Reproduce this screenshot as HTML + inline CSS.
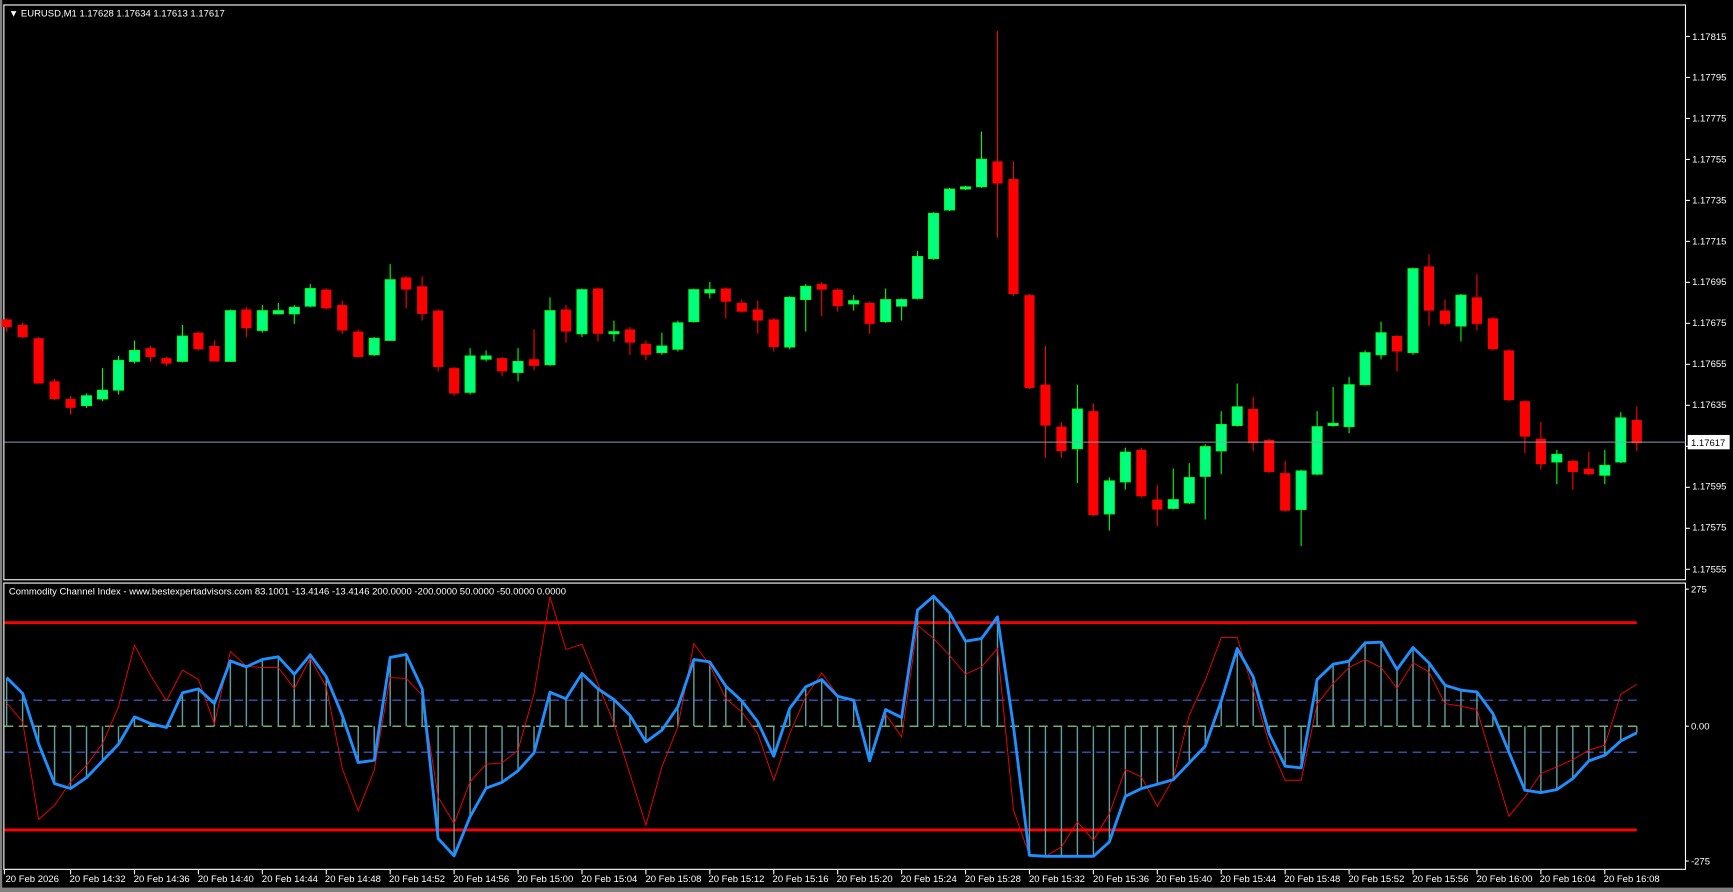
<!DOCTYPE html>
<html><head><meta charset="utf-8">
<style>
html,body{margin:0;padding:0;background:#000;overflow:hidden;}
svg{display:block;}
text{font-family:"Liberation Sans",sans-serif;fill:#fff;font-size:8.6px;}
</style></head><body>
<svg id="c" width="1733" height="892" viewBox="0 0 1568 807" preserveAspectRatio="none" xmlns="http://www.w3.org/2000/svg">
<rect x="0" y="0" width="1568" height="807" fill="#000"/>
<rect x="0" y="0" width="2" height="807" fill="#808080"/>
<rect x="0" y="803" width="1568" height="4" fill="#808080"/>
<g id="grid"></g>
<rect x="3.5" y="4.5" width="1521.5" height="520" fill="none" stroke="#fff" stroke-width="1"/>
<rect x="3.5" y="527.5" width="1521.5" height="259" fill="none" stroke="#fff" stroke-width="1"/>
<g id="ind"></g>
<g id="cand"></g>
<line x1="4" y1="400" x2="1525" y2="400" stroke="#8a9aab" stroke-width="1"/>
<g id="axis"></g>
<text x="8" y="15">▼ EURUSD,M1  1.17628 1.17634 1.17613 1.17617</text>
<text x="8" y="538">Commodity Channel Index - www.bestexpertadvisors.com 83.1001 -13.4146 -13.4146 200.0000 -200.0000 50.0000 -50.0000 0.0000</text>
<text x="1531" y="36">1.17815</text>
<text x="1531" y="73">1.17795</text>
<text x="1531" y="110">1.17775</text>
<text x="1531" y="147">1.17755</text>
<text x="1531" y="184">1.17735</text>
<text x="1531" y="221">1.17715</text>
<text x="1531" y="258">1.17695</text>
<text x="1531" y="295">1.17675</text>
<text x="1531" y="332">1.17655</text>
<text x="1531" y="369">1.17635</text>
<text x="1531" y="443">1.17595</text>
<text x="1531" y="480">1.17575</text>
<text x="1531" y="518">1.17555</text>
<rect x="1527" y="393.5" width="38" height="13" fill="#fff"/>
<text x="1530" y="403.5" style="fill:#000">1.17617</text>
<text x="1530" y="536">275</text>
<text x="1530" y="660">0.00</text>
<text x="1530" y="782">-275</text>
<g id="xl">
<text x="5" y="798">20 Feb 2026</text>
<text x="63" y="798">20 Feb 14:32</text>
<text x="121" y="798">20 Feb 14:36</text>
<text x="179" y="798">20 Feb 14:40</text>
<text x="237" y="798">20 Feb 14:44</text>
<text x="294" y="798">20 Feb 14:48</text>
<text x="352" y="798">20 Feb 14:52</text>
<text x="410" y="798">20 Feb 14:56</text>
<text x="468" y="798">20 Feb 15:00</text>
<text x="526" y="798">20 Feb 15:04</text>
<text x="584" y="798">20 Feb 15:08</text>
<text x="641" y="798">20 Feb 15:12</text>
<text x="699" y="798">20 Feb 15:16</text>
<text x="757" y="798">20 Feb 15:20</text>
<text x="815" y="798">20 Feb 15:24</text>
<text x="873" y="798">20 Feb 15:28</text>
<text x="931" y="798">20 Feb 15:32</text>
<text x="989" y="798">20 Feb 15:36</text>
<text x="1046" y="798">20 Feb 15:40</text>
<text x="1104" y="798">20 Feb 15:44</text>
<text x="1162" y="798">20 Feb 15:48</text>
<text x="1220" y="798">20 Feb 15:52</text>
<text x="1278" y="798">20 Feb 15:56</text>
<text x="1336" y="798">20 Feb 16:00</text>
<text x="1393" y="798">20 Feb 16:04</text>
<text x="1451" y="798">20 Feb 16:08</text>
</g>
</svg>
<script>
var NS="http://www.w3.org/2000/svg";
function el(p,t,a){var e=document.createElementNS(NS,t);for(var k in a)e.setAttribute(k,a[k]);p.appendChild(e);return e;}
function X(i){return 6+i*14.46;}
var C=[
"R",289,296,288,300,"R",294,305,292,306,"R",306,347,305,347,"R",345,361,343,362,"R",361,369,358,375,
"G",358,367,356,369,"G",353,361,333,363,"G",326,353,322,357,"G",317,327,308,329,"R",315,323,313,327,
"R",324,329,323,331,"G",304,327,294,328,"R",301,316,300,317,"R",313,327,308,327,"G",281,327,280,327,
"R",280,297,278,305,"G",281,299,276,301,"G",281,284,274,284,"G",278,284,276,293,"G",261,277,257,278,
"R",262,279,261,280,"R",276,299,272,302,"R",300,323,298,323,"G",306,321,305,322,"G",253,308,239,308,
"R",251,262,250,279,"R",259,284,250,290,"R",281,332,280,336,"R",333,356,332,358,"G",322,355,315,357,
"G",322,325,317,327,"R",324,336,323,340,"G",327,337,315,345,"R",325,331,298,335,"G",281,330,269,331,
"R",280,300,276,310,"G",262,302,261,305,"R",261,302,260,309,"G",300,302,290,309,"R",298,310,296,321,
"R",311,321,308,326,"G",313,319,301,321,"G",292,316,290,318,"G",262,291,261,292,"G",262,265,255,270,
"R",261,273,260,288,"R",274,282,271,283,"R",280,290,272,302,"R",289,314,288,318,"G",269,314,268,316,
"G",259,271,257,300,"R",257,262,255,286,"R",262,277,261,282,"G",272,275,267,281,"R",274,293,273,302,
"G",271,291,261,292,"G",271,277,270,290,"G",232,270,227,271,"G",193,234,192,235,"G",171,190,170,191,
"G",169,171,168,172,"G",144,169,119,170,"R",146,166,28,215,"R",162,266,146,268,"R",267,351,266,352,
"R",348,385,313,414,"R",386,408,382,414,"G",370,406,348,437,"R",372,466,365,467,"G",435,465,432,480,
"G",409,436,405,443,"R",407,449,405,450,"R",452,461,439,476,"G",452,460,424,461,"G",432,455,419,456,
"G",404,431,402,470,"G",384,408,372,429,"G",368,385,347,386,"R",370,401,359,408,"R",398,427,397,428,
"R",428,462,417,463,"G",426,461,425,494,"G",386,429,372,430,"G",383,385,350,386,"G",348,386,341,392,
"G",319,348,317,349,"G",301,321,291,325,"R",304,318,303,336,"G",243,319,242,321,"R",241,281,230,295,
"R",281,293,271,295,"G",267,295,266,309,"R",269,293,248,299,"R",288,316,287,317,"R",317,362,316,363,
"R",363,395,362,410,"R",397,420,382,425,"G",411,418,407,438,"R",417,427,416,443,"R",424,429,409,430,
"G",421,430,407,438,"G",378,418,373,419,"R",380,401,368,408];
var g=document.getElementById("cand");
for(var i=0;i*5<C.length;i++){
 var t=C[i*5],bt=C[i*5+1],bb=C[i*5+2],hi=C[i*5+3],lo=C[i*5+4],x=X(i);
 var col=t=="R"?"#ff0000":"#00ff00",fill=t=="R"?"#ff0000":"#00ff7f";
 el(g,"line",{x1:x,y1:hi,x2:x,y2:lo,stroke:col,"stroke-width":1});
 var h=Math.max(bb-bt,1.5);
 el(g,"rect",{x:x-4.6,y:bt,width:9.2,height:h,fill:fill,stroke:col,"stroke-width":t=="R"?0:0.8});
}
// indicator
function zy(v){return 524.9+v/3.315;}
var bA=[613,627.4,672.7,709,713.4,703.5,688.4,673.3,648.5,654.6,658.2,626.8,623.2,636.5,597.9,603.3,596.6,594.2,610,592.4,612.3,647.3,689.9,687.8,594.8,592.1,623.2,758.6,774.3,739,713.1,707.7,697.4,681.1,626.2,632.2,609.3,623.2];
var bB=[358,405,485,450,380,238,245,318,362,425,528,385,320,298,348,360,542,388,412,90,48,98,183,175,110,440,825,828,828,828,828];
var bC=[785,648,625,612,598,548,498,362,205,290,460,558,563,298,252,243,188,186,268,202,248,315,330,335,400,515,630,637,628,595,542,525,482];
var rA=[636,653,741.4,728.5,707.4,692.3,672.7,639.5,583.7,610.8,634.1,606.3,614.7,655.2,589.4,602.7,603.9,603.9,622.9,595.7,621.4,695.3,733.6,696.8,613,613.8,629,721,745.1,707.4,691.4,690.2,678.7,627.4,539.9,587.6,582.8,618.4];
var rB=[430,580,735,560,440,190,255,355,395,460,600,460,350,278,345,360,540,402,470,135,175,225,282,260,205,690,825,828,800,725,780];
var rC=[700,568,590,678,595,405,300,172,172,330,490,600,600,372,310,262,238,262,325,248,275,370,378,388,550,708,650,580,560,538,510,495,342];
var B=bA.concat(bB.map(zy),bC.map(zy),[663]);
var R=rA.concat(rB.map(zy),rC.map(zy),[619]);
var ig=document.getElementById("ind");
var xe=X(102);
el(ig,"line",{x1:4,y1:657,x2:xe,y2:657,stroke:"#90ee90","stroke-width":1,"stroke-dasharray":"8,5"});
el(ig,"line",{x1:4,y1:633.5,x2:xe,y2:633.5,stroke:"#4169e1","stroke-width":1,"stroke-dasharray":"8,5"});
el(ig,"line",{x1:4,y1:680.5,x2:xe,y2:680.5,stroke:"#4169e1","stroke-width":1,"stroke-dasharray":"8,5"});
el(ig,"line",{x1:4,y1:563.3,x2:xe,y2:563.3,stroke:"#ff0000","stroke-width":2.6});
el(ig,"line",{x1:4,y1:750.8,x2:xe,y2:750.8,stroke:"#ff0000","stroke-width":2.6});
for(var i=0;i<B.length;i++){el(ig,"line",{x1:X(i),y1:657,x2:X(i),y2:B[i],stroke:"#5f9ea0","stroke-width":1.3});}
var pr="",pb="";
for(var i=0;i<R.length;i++){pr+=(i?"L":"M")+X(i).toFixed(1)+","+R[i].toFixed(1);}
for(var i=0;i<B.length;i++){pb+=(i?"L":"M")+X(i).toFixed(1)+","+B[i].toFixed(1);}
el(ig,"path",{d:pr,fill:"none",stroke:"#ff0000","stroke-width":0.8});
el(ig,"path",{d:pb,fill:"none",stroke:"#1e90ff","stroke-width":2.6,"stroke-linejoin":"round"});
// axis ticks
var ax=document.getElementById("axis");
for(var k=0;k<14;k++){var y=33+k*37.08;el(ax,"line",{x1:1525,y1:y,x2:1529,y2:y,stroke:"#fff","stroke-width":1});}
[533,657,779].forEach(function(y){el(ax,"line",{x1:1525,y1:y,x2:1528,y2:y,stroke:"#fff","stroke-width":1});});
for(var k=0;k<=25;k++){var x=k==0?4:X(k*4);el(ax,"line",{x1:x,y1:787,x2:x,y2:791,stroke:"#fff","stroke-width":1});}
</script>
</body></html>
